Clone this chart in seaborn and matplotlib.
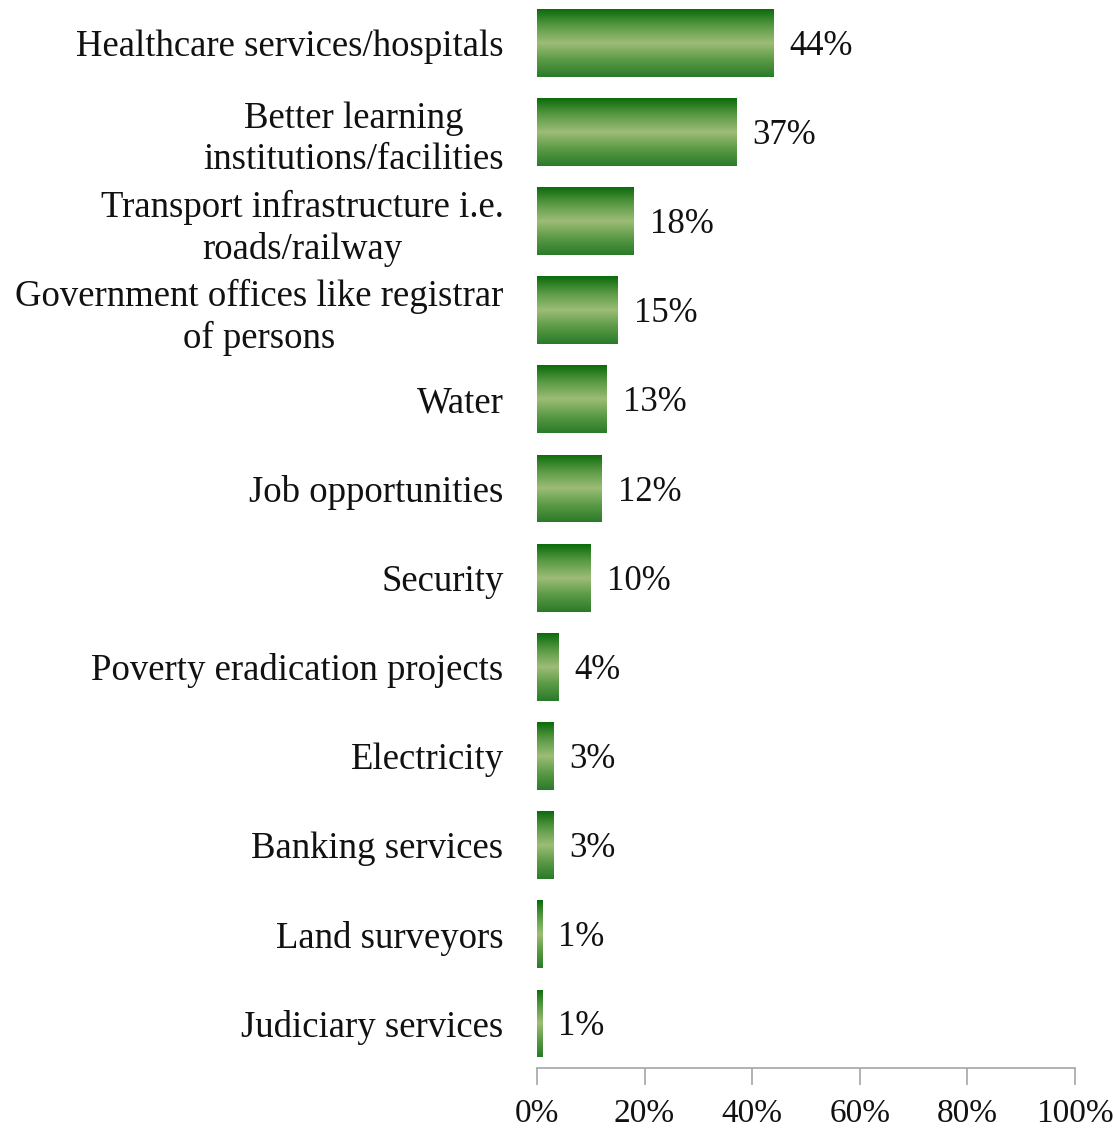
import numpy as np
import pandas as pd
import matplotlib
matplotlib.use("Agg")
import matplotlib.pyplot as plt
import seaborn as sns
from matplotlib.colors import LinearSegmentedColormap

categories = [
    "Healthcare services/hospitals",
    "Better learning\ninstitutions/facilities",
    "Transport infrastructure i.e.\nroads/railway",
    "Government offices like registrar\nof persons",
    "Water",
    "Job opportunities",
    "Security",
    "Poverty eradication projects",
    "Electricity",
    "Banking services",
    "Land surveyors",
    "Judiciary services",
]
values = [44, 37, 18, 15, 13, 12, 10, 4, 3, 3, 1, 1]
x_ticks = [0, 20, 40, 60, 80, 100]

df = pd.DataFrame({"category": categories, "value": values})

sns.set_theme(style="white")
plt.rcParams["font.family"] = ["Liberation Serif", "DejaVu Serif"]

fig = plt.figure(figsize=(11.14, 11.31), dpi=100)
ax = fig.add_axes([0.482, 0.0557, 0.483, 0.9452])

sns.barplot(data=df, x="value", y="category", orient="h", color="#2e7d2e",
            width=0.76, ax=ax, edgecolor="none")

# vertical green gradient inside every bar
grad_cmap = LinearSegmentedColormap.from_list(
    "bar_grad", ["#0b6b0b", "#5a9a45", "#9dbd77", "#5a9a45", "#2a7a2a"])
grad = np.linspace(0, 1, 256).reshape(-1, 1)
for patch in ax.patches:
    x0, y0 = patch.get_x(), patch.get_y()
    w, h = patch.get_width(), patch.get_height()
    patch.set_facecolor("none")
    im = ax.imshow(grad, cmap=grad_cmap, aspect="auto",
                   extent=(x0, x0 + w, y0 + h, y0), zorder=2,
                   interpolation="bicubic")
    im.set_clip_path(patch)

for i, v in enumerate(values):
    ax.text(v + 3.0, i + 0.04, f"{v}%", va="center", ha="left",
            fontsize=25, color="#111111")

ax.set_xlim(0, 100)
ax.set_ylim(11.5, -0.49)
ax.set_xticks(x_ticks)
ax.set_xticklabels([f"{t}%" for t in x_ticks], fontsize=24)
ax.set_xlabel("")
ax.set_ylabel("")
ax.tick_params(axis="y", length=0, pad=24, labelsize=26.5)
ax.tick_params(axis="x", direction="out", length=12, width=1.2,
               color="#a6a6a6", bottom=True, pad=10)
for lbl in ax.get_yticklabels():
    lbl.set_multialignment("center")
    lbl.set_linespacing(1.25)
    lbl.set_color("#111111")
for lbl in ax.get_xticklabels():
    lbl.set_color("#111111")

for side in ["top", "right", "left"]:
    ax.spines[side].set_visible(False)
ax.spines["bottom"].set_color("#a6a6a6")
ax.spines["bottom"].set_linewidth(1.2)

fig.savefig("out.png", dpi=100)
